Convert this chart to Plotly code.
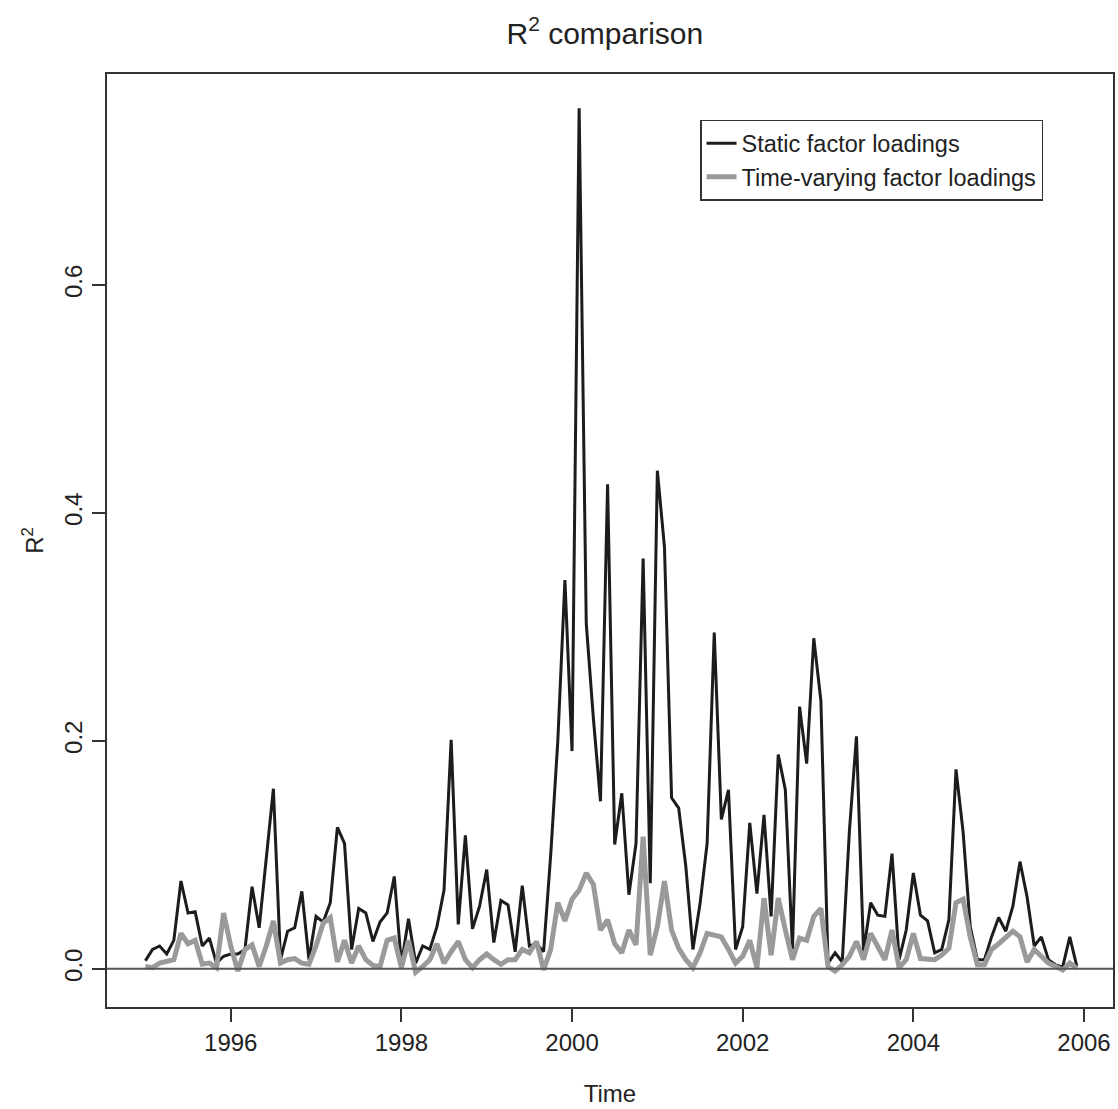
import numpy as np
import plotly.graph_objects as go

# Monthly series, Jan 1995 - Dec 2005
start_year = 1995
months_per_year = 12

static_loadings = [
    0.007, 0.017, 0.020, 0.013, 0.025, 0.077, 0.049, 0.050, 0.020, 0.027, 0.005, 0.011,
    0.013, 0.013, 0.017, 0.072, 0.036, 0.097, 0.158, 0.008, 0.033, 0.036, 0.068, 0.008,
    0.046, 0.041, 0.058, 0.124, 0.110, 0.017, 0.053, 0.049, 0.024, 0.041, 0.049, 0.081,
    0.004, 0.044, 0.005, 0.020, 0.017, 0.037, 0.069, 0.201, 0.039, 0.117, 0.035, 0.055,
    0.087, 0.023, 0.060, 0.056, 0.015, 0.073, 0.020, 0.022, 0.015, 0.100, 0.200, 0.341,
    0.191, 0.755, 0.303, 0.220, 0.147, 0.425, 0.109, 0.154, 0.065, 0.110, 0.360, 0.075,
    0.437, 0.370, 0.150, 0.141, 0.090, 0.017, 0.057, 0.110, 0.295, 0.131, 0.157, 0.017,
    0.037, 0.128, 0.066, 0.135, 0.046, 0.188, 0.157, 0.017, 0.230, 0.180, 0.290, 0.235,
    0.005, 0.014, 0.006, 0.120, 0.204, 0.015, 0.058, 0.047, 0.046, 0.101, 0.008, 0.034,
    0.084, 0.047, 0.042, 0.014, 0.017, 0.043, 0.175, 0.120, 0.037, 0.008, 0.008, 0.028,
    0.045, 0.033, 0.055, 0.094, 0.063, 0.020, 0.028, 0.008, 0.0035, 0.0015, 0.028, 0.002,
]

time_varying_loadings = [
    0.002, 0.001, 0.005, 0.006, 0.008, 0.031, 0.022, 0.025, 0.004, 0.005, 0.001, 0.049,
    0.020, -0.002, 0.017, 0.021, 0.002, 0.020, 0.042, 0.005, 0.008, 0.009, 0.005, 0.004,
    0.020, 0.040, 0.045, 0.006, 0.025, 0.005, 0.020, 0.008, 0.003, 0.002, 0.025, 0.027,
    0.001, 0.025, -0.003, 0.002, 0.008, 0.022, 0.005, 0.015, 0.024, 0.008, 0.001, 0.008,
    0.013, 0.008, 0.004, 0.008, 0.008, 0.017, 0.014, 0.024, -0.001, 0.017, 0.058, 0.042,
    0.061, 0.069, 0.084, 0.074, 0.034, 0.043, 0.022, 0.014, 0.034, 0.021, 0.116, 0.012,
    0.037, 0.077, 0.034, 0.018, 0.008, 0.001, 0.014, 0.031, 0.030, 0.028, 0.017, 0.005,
    0.011, 0.025, 0.001, 0.062, 0.012, 0.062, 0.034, 0.008, 0.027, 0.025, 0.046, 0.053,
    0.002, -0.002, 0.0035, 0.011, 0.024, 0.008, 0.031, 0.020, 0.008, 0.034, 0.001, 0.008,
    0.031, 0.009, 0.009, 0.008, 0.012, 0.018, 0.058, 0.061, 0.028, 0.0035, 0.0035, 0.017,
    0.022, 0.027, 0.033, 0.028, 0.006, 0.017, 0.011, 0.005, 0.002, -0.001, 0.005, 0.0005,
]

x_tick_values = [1996, 1998, 2000, 2002, 2004, 2006]
x_tick_labels = ["1996", "1998", "2000", "2002", "2004", "2006"]
y_tick_values = [0.0, 0.2, 0.4, 0.6]
y_tick_labels = ["0.0", "0.2", "0.4", "0.6"]

time = start_year + np.arange(len(static_loadings)) / months_per_year

FONT = "Liberation Sans, Arial, Helvetica, sans-serif"
INK = "#222222"
AX = "#333333"

fig = go.Figure()
fig.add_trace(go.Scatter(
    x=time, y=static_loadings, mode="lines", name="Static factor loadings",
    line=dict(color="#1c1c1c", width=3),
))
fig.add_trace(go.Scatter(
    x=time, y=time_varying_loadings, mode="lines", name="Time-varying factor loadings",
    line=dict(color="#9a9a9a", width=5),
))
fig.add_hline(y=0, line=dict(color="#555555", width=2))

fig.update_layout(
    width=1118, height=1109,
    margin=dict(l=107, r=5, t=74, b=102, autoexpand=False),
    paper_bgcolor="white", plot_bgcolor="white",
    font=dict(family=FONT, size=24, color=INK),
    title=dict(text="R<sup>2</sup> comparison", x=0.541, xanchor="center",
               xref="container", y=0.970, yanchor="middle", yref="container",
               font=dict(size=30, color=INK)),
    showlegend=True,
    legend=dict(x=0.5895, y=0.9507, xanchor="left", yanchor="top",
                bgcolor="white", bordercolor=AX, borderwidth=1.5,
                font=dict(size=23.5, color=INK), tracegroupgap=0,
                itemwidth=30),
)
fig.update_xaxes(
    range=[1994.55, 2006.34], showgrid=False, zeroline=False, automargin=False,
    showline=True, mirror=True, linecolor=AX, linewidth=2,
    tickmode="array", tickvals=x_tick_values, ticktext=x_tick_labels,
    ticks="outside", ticklen=13, tickwidth=1.5, tickcolor=AX,
    tickfont=dict(size=24, color=INK),
    title=dict(text="Time", font=dict(size=24, color=INK), standoff=30),
)
fig.update_yaxes(
    range=[-0.0335, 0.785], showgrid=False, zeroline=False, automargin=False,
    showline=True, mirror=True, linecolor=AX, linewidth=2,
    tickmode="array", tickvals=y_tick_values, ticktext=y_tick_labels,
    ticks="outside", ticklen=13, tickwidth=1.5, tickcolor=AX,
    tickangle=-90, tickfont=dict(size=24, color=INK),
    title=dict(text="R<sup>2</sup>", font=dict(size=24, color=INK), standoff=10),
)

fig.write_html("out.html",
               config={"displayModeBar": False},
               post_script="document.body.style.margin='0px';document.body.style.overflow='hidden';")
